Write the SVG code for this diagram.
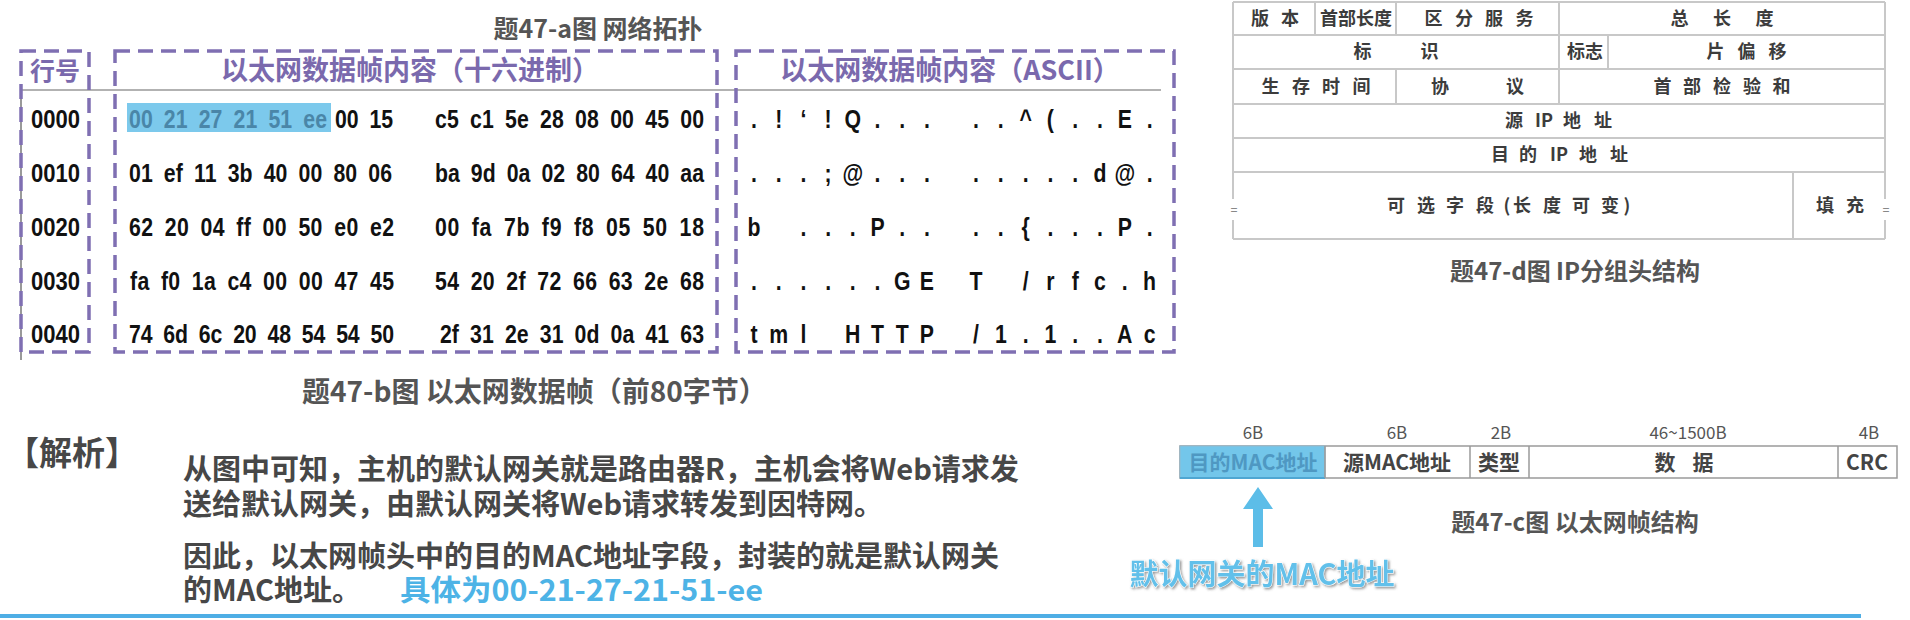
<svg xmlns="http://www.w3.org/2000/svg" width="1910" height="620" viewBox="0 0 1910 620">
<defs>
<style>
.cjk{font-family:"Noto Sans CJK SC","Noto Sans",sans-serif;font-weight:700}
.cap{fill:#555}
.hdr{fill:#7a69ad;text-anchor:middle}
.hex{font-family:"Liberation Sans",Arial,sans-serif;font-weight:700;font-size:25px;fill:#111}
.ws{word-spacing:6px}
.asc{text-anchor:middle}
.dash{fill:none;stroke:#7f6fb2;stroke-width:3.5;stroke-dasharray:15 8}
.ipl{stroke:#c8c8c8;stroke-width:2;fill:none}
.ipt{font-size:18px;fill:#3c3c3c;text-anchor:middle}
.fr{fill:#fff;stroke:#9a9a9a;stroke-width:1.5}
.frt{font-size:21px;fill:#444;text-anchor:middle}
.frl{font-family:"Noto Sans CJK SC","Noto Sans",sans-serif;font-weight:400;font-size:17px;fill:#555;text-anchor:middle}
.para{font-size:29px;fill:#474747}
.brk{font-family:"Liberation Sans",sans-serif;font-size:12px;fill:#888;text-anchor:middle}
</style>
<filter id="sh" x="-10%" y="-30%" width="120%" height="160%">
<feDropShadow dx="1.5" dy="1.5" stdDeviation="1.2" flood-color="#555" flood-opacity="0.6"/>
</filter>
</defs>
<rect width="1910" height="620" fill="#fff"/>

<g id="caption-a"><text class="cjk cap" x="598" y="38" font-size="25" text-anchor="middle">题47-a图 网络拓扑</text></g>

<g id="hex-table">
<line x1="21" y1="90" x2="1161" y2="90" stroke="#999" stroke-width="1.5"/>
<line x1="21" y1="90" x2="21" y2="360" stroke="#777" stroke-width="1.5"/>
<rect class="dash" x="21" y="51" width="68" height="301"/>
<rect class="dash" x="115" y="51" width="602" height="301"/>
<rect class="dash" x="736" y="51" width="438" height="301"/>
<text class="cjk hdr" x="55" y="80" font-size="25">行号</text>
<text class="cjk hdr" x="410" y="80" font-size="27">以太网数据帧内容（十六进制）</text>
<text class="cjk hdr" x="950" y="80" font-size="27">以太网数据帧内容（ASCII）</text>
</g>

<g id="row-numbers">
<text class="hex" x="31" y="128" textLength="49" lengthAdjust="spacingAndGlyphs">0000</text>
<text class="hex" x="31" y="182" textLength="49" lengthAdjust="spacingAndGlyphs">0010</text>
<text class="hex" x="31" y="236" textLength="49" lengthAdjust="spacingAndGlyphs">0020</text>
<text class="hex" x="31" y="290" textLength="49" lengthAdjust="spacingAndGlyphs">0030</text>
<text class="hex" x="31" y="343" textLength="49" lengthAdjust="spacingAndGlyphs">0040</text>
</g>

<g id="hex-rows">
<rect x="127" y="103" width="204" height="29" fill="#7cc9ec"/>
<g transform="scale(0.85,1)">
<text class="hex ws" x="151.76" y="128" style="fill:#4a86a8" textLength="232.94" lengthAdjust="spacing">00 21 27 21 51 ee</text>
<text class="hex ws" x="394.12" y="128" textLength="68.24" lengthAdjust="spacing">00 15</text>
<text class="hex ws" x="511.76" y="128" textLength="316.47" lengthAdjust="spacing">c5 c1 5e 28 08 00 45 00</text>
<text class="hex ws" x="151.76" y="182" textLength="309.41" lengthAdjust="spacing">01 ef 11 3b 40 00 80 06</text>
<text class="hex ws" x="511.76" y="182" textLength="316.47" lengthAdjust="spacing">ba 9d 0a 02 80 64 40 aa</text>
<text class="hex ws" x="151.76" y="236" textLength="311.76" lengthAdjust="spacing">62 20 04 ff 00 50 e0 e2</text>
<text class="hex ws" x="511.76" y="236" textLength="316.47" lengthAdjust="spacing">00 fa 7b f9 f8 05 50 18</text>
<text class="hex ws" x="152.94" y="290" textLength="310.59" lengthAdjust="spacing">fa f0 1a c4 00 00 47 45</text>
<text class="hex ws" x="511.76" y="290" textLength="316.47" lengthAdjust="spacing">54 20 2f 72 66 63 2e 68</text>
<text class="hex ws" x="151.76" y="343" textLength="311.76" lengthAdjust="spacing">74 6d 6c 20 48 54 54 50</text>
<text class="hex ws" x="517.65" y="343" textLength="310.59" lengthAdjust="spacing">2f 31 2e 31 0d 0a 41 63</text>
</g>
</g>

<g id="ascii-rows">
<g transform="scale(0.85,1)">
<text class="hex asc" x="887.06 916.12 945.18 974.24 1003.29 1032.35 1061.41 1090.47 1148.24 1177.41 1206.59 1235.76 1264.94 1294.12 1323.29 1352.47" y="128">.!‘!Q.....^(..E.</text>
<text class="hex asc" x="887.06 916.12 945.18 974.24 1003.29 1032.35 1061.41 1090.47 1148.24 1177.41 1206.59 1235.76 1264.94 1294.12 1323.29 1352.47" y="182">...;@........d@.</text>
<text class="hex asc" x="887.06 916.12 945.18 974.24 1003.29 1032.35 1061.41 1090.47 1148.24 1177.41 1206.59 1235.76 1264.94 1294.12 1323.29 1352.47" y="236">b ...P....{...P.</text>
<text class="hex asc" x="887.06 916.12 945.18 974.24 1003.29 1032.35 1061.41 1090.47 1148.24 1177.41 1206.59 1235.76 1264.94 1294.12 1323.29 1352.47" y="290">......GET /rfc.h</text>
<text class="hex asc" x="887.06 916.12 945.18 974.24 1003.29 1032.35 1061.41 1090.47 1148.24 1177.41 1206.59 1235.76 1264.94 1294.12 1323.29 1352.47" y="343">tml HTTP/1.1..Ac</text>
</g>
</g>

<g id="caption-b"><text class="cjk cap" x="302" y="402" font-size="28">题47-b图 以太网数据帧（前80字节）</text></g>

<g id="ip-header">
<line class="ipl" x1="1233" y1="2" x2="1885" y2="2"/>
<line class="ipl" x1="1233" y1="35" x2="1885" y2="35"/>
<line class="ipl" x1="1233" y1="69" x2="1885" y2="69"/>
<line class="ipl" x1="1233" y1="104" x2="1885" y2="104"/>
<line class="ipl" x1="1233" y1="138" x2="1885" y2="138"/>
<line class="ipl" x1="1233" y1="172" x2="1885" y2="172"/>
<line class="ipl" x1="1233" y1="239" x2="1885" y2="239"/>
<line class="ipl" x1="1233" y1="2" x2="1233" y2="199"/>
<line class="ipl" x1="1233" y1="220" x2="1233" y2="239"/>
<line class="ipl" x1="1885" y1="2" x2="1885" y2="199"/>
<line class="ipl" x1="1885" y1="220" x2="1885" y2="239"/>
<line class="ipl" x1="1315" y1="2" x2="1315" y2="35"/>
<line class="ipl" x1="1396" y1="2" x2="1396" y2="35"/>
<line class="ipl" x1="1396" y1="69" x2="1396" y2="104"/>
<line class="ipl" x1="1559" y1="2" x2="1559" y2="104"/>
<line class="ipl" x1="1608" y1="35" x2="1608" y2="69"/>
<line class="ipl" x1="1793" y1="172" x2="1793" y2="239"/>
<text class="brk" x="1234" y="214">=</text>
<text class="brk" x="1886" y="214">=</text>
<text class="cjk ipt" x="1260 1290" y="25">版本</text>
<text class="cjk ipt" x="1356" y="25">首部长度</text>
<text class="cjk ipt" x="1433.5 1464 1494 1524.5" y="25">区分服务</text>
<text class="cjk ipt" x="1679.5 1722 1764.5" y="25">总长度</text>
<text class="cjk ipt" x="1362.5 1429.5" y="58">标识</text>
<text class="cjk ipt" x="1585" y="58">标志</text>
<text class="cjk ipt" x="1715.5 1746.5 1777.5" y="58">片偏移</text>
<text class="cjk ipt" x="1270.5 1301 1331 1361.5" y="93">生存时间</text>
<text class="cjk ipt" x="1440 1515" y="93">协议</text>
<text class="cjk ipt" x="1662.5 1692 1722 1752 1781.5" y="93">首部检验和</text>
<text class="cjk ipt" y="127"><tspan x="1514">源</tspan><tspan x="1544">IP</tspan><tspan x="1572">地</tspan><tspan x="1603">址</tspan></text>
<text class="cjk ipt" y="161"><tspan x="1500">目</tspan><tspan x="1528">的</tspan><tspan x="1559">IP</tspan><tspan x="1588">地</tspan><tspan x="1619">址</tspan></text>
<text class="cjk ipt" x="1396 1426 1455 1485 1507 1522 1552 1581 1610 1627" y="212">可选字段(长度可变)</text>
<text class="cjk ipt" x="1825 1855" y="212">填充</text>
</g>
<g id="caption-d"><text class="cjk cap" x="1575" y="280" font-size="24" text-anchor="middle">题47-d图 IP分组头结构</text></g>

<g id="frame-sizes">
<text class="frl" x="1253" y="439">6B</text>
<text class="frl" x="1397" y="439">6B</text>
<text class="frl" x="1501" y="439">2B</text>
<text class="frl" x="1688" y="439">46~1500B</text>
<text class="frl" x="1869" y="439">4B</text>
</g>
<g id="frame">
<rect class="fr" x="1180" y="446" width="717" height="32"/>
<rect x="1180" y="446" width="145" height="32" fill="#73c6ea" stroke="#8fb9cf" stroke-width="1"/>
<line x1="1180" y1="478" x2="1325" y2="478" stroke="#4fa6d2" stroke-width="2"/>
<line x1="1325" y1="446" x2="1325" y2="478" stroke="#9a9a9a" stroke-width="1.5"/>
<line x1="1470" y1="446" x2="1470" y2="478" stroke="#9a9a9a" stroke-width="1.5"/>
<line x1="1529" y1="446" x2="1529" y2="478" stroke="#9a9a9a" stroke-width="1.5"/>
<line x1="1838" y1="446" x2="1838" y2="478" stroke="#9a9a9a" stroke-width="1.5"/>
<text class="cjk frt" x="1253" y="470" style="fill:#4f98c2">目的MAC地址</text>
<text class="cjk frt" x="1397" y="470">源MAC地址</text>
<text class="cjk frt" x="1499" y="470">类型</text>
<text class="cjk frt" x="1665 1703" y="470">数据</text>
<text class="cjk frt" x="1867" y="470">CRC</text>
</g>
<g id="connectors">
<polygon points="1258,487 1273,509 1263,509 1263,547 1253,547 1253,509 1243,509" fill="#5cbde8"/>
</g>
<g id="gateway-label">
<text class="cjk" x="1262" y="585" font-size="29" text-anchor="middle" fill="#62c0ea" stroke="#ffffff" stroke-width="1" paint-order="stroke" filter="url(#sh)">默认网关的MAC地址</text>
</g>
<g id="caption-c"><text class="cjk cap" x="1575" y="531" font-size="24" text-anchor="middle">题47-c图 以太网帧结构</text></g>

<g id="analysis">
<text class="cjk" x="6" y="465" font-size="33" fill="#474747">【解析】</text>
<text class="cjk para" x="183" y="480">从图中可知，主机的默认网关就是路由器R，主机会将Web请求发</text>
<text class="cjk para" x="183" y="515">送给默认网关，由默认网关将Web请求转发到因特网。</text>
<text class="cjk para" x="183" y="567">因此，以太网帧头中的目的MAC地址字段，封装的就是默认网关</text>
<text class="cjk para" x="183" y="601">的MAC地址。</text>
<text class="cjk para" x="400" y="601" style="fill:#4db3e6" textLength="363" lengthAdjust="spacingAndGlyphs">具体为00-21-27-21-51-ee</text>
</g>
<rect x="0" y="614" width="1861" height="4" fill="#4eaee5"/>
</svg>
